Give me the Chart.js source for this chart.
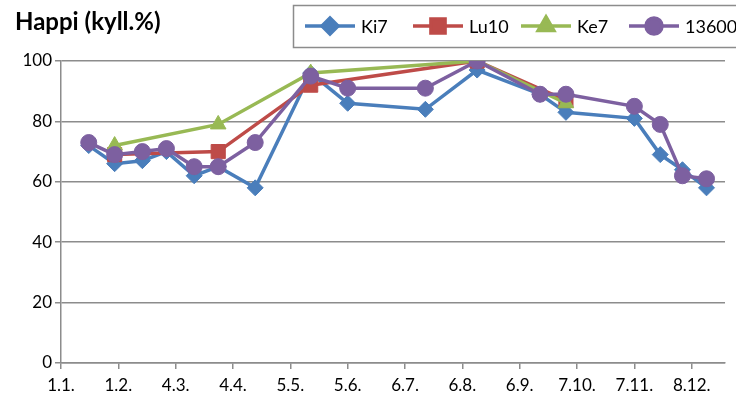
<!DOCTYPE html>
<html>
<head>
<meta charset="utf-8">
<script src="https://cdn.jsdelivr.net/npm/chart.js@4.4.1/dist/chart.umd.min.js"></script>
<style>
  html, body { margin: 0; padding: 0; background: #ffffff; }
  #wrap { width: 736px; height: 401px; }
</style>
</head>
<body>
<div id="wrap"><canvas id="c" width="736" height="401"></canvas></div>
<script>
// Sampling days (day of year, 1.1. = 0)
const sampleDays = [15, 29, 44, 57, 72, 85, 105, 135, 155, 197, 225, 259, 273, 310, 324, 336, 349];

// Oxygen saturation (%) per station; null = not sampled that day
const ki7   = [72, 66, 67, 70, 62, 65, 58, 96, 86, 84, 97, 89, 83, 81, 69, 64, 58];
const lu10  = [null, 69, null, null, null, 70, null, 92, null, null, 100, null, 87, null, null, null, null];
const ke7   = [null, 72, null, null, null, 79, null, 96, null, null, 100, null, 86, null, null, null, null];
const s13600 = [73, 69, 70, 71, 65, 65, 73, 95, 91, 91, 100, 89, 89, 85, 79, 62, 61];

// Date axis ticks every 31 days
const tickDays   = [0, 31, 62, 93, 124, 155, 186, 217, 248, 279, 310, 341];
const tickLabels = ['1.1.', '1.2.', '4.3.', '4.4.', '5.5.', '5.6.', '6.7.', '6.8.', '6.9.', '7.10.', '7.11.', '8.12.'];
const yTicks = [0, 20, 40, 60, 80, 100];

const FONT = 'Lato, "Open Sans", sans-serif';
const GRID = '#8c8c8c';

function points(values) {
  const out = [];
  values.forEach((v, i) => { if (v !== null) out.push({ x: sampleDays[i], y: v }); });
  return out;
}

function series(label, values, color, style, radius, order) {
  return {
    label, data: points(values), order,
    borderColor: color, backgroundColor: color,
    borderWidth: 3.5, pointStyle: style, pointRadius: radius,
    pointHoverRadius: radius, pointBorderWidth: 1,
    pointBorderColor: color, pointBackgroundColor: color,
    tension: 0
  };
}

const datasets = [
  series('Ki7', ki7, '#4a7ebb', 'rectRot', 8, 4),
  series('Lu10', lu10, '#be4b48', 'rect', 10, 3),
  series('Ke7', ke7, '#98b954', 'triangle', 9, 2),
  series('13600', s13600, '#7d60a0', 'circle', 8, 1)
];

// Title and boxed legend (equal-width entries) drawn on top of the chart
const decorations = {
  id: 'decorations',
  afterDraw(chart) {
    const ctx = chart.ctx;
    ctx.save();
    ctx.fillStyle = '#000';
    ctx.font = 'bold 24px ' + FONT;
    ctx.textBaseline = 'middle';
    ctx.textAlign = 'left';
    ctx.fillText('Happi (kyll.%)', 15, 22);

    ctx.strokeStyle = GRID;
    ctx.lineWidth = 1.5;
    ctx.strokeRect(293.5, 5.5, 470, 42);

    ctx.font = '18px ' + FONT;
    const y = 26;
    chart.data.datasets.forEach((ds, i) => {
      const x = 305 + i * 108;
      ctx.strokeStyle = ds.borderColor;
      ctx.lineWidth = 3.5;
      ctx.beginPath();
      ctx.moveTo(x, y);
      ctx.lineTo(x + 50, y);
      ctx.stroke();
      ctx.fillStyle = ds.borderColor;
      Chart.helpers.drawPoint(ctx, { pointStyle: ds.pointStyle, radius: ds.pointRadius, borderWidth: 1 }, x + 25, y);
      ctx.fillStyle = '#000';
      ctx.fillText(ds.label, x + 56, y + 1);
    });
    ctx.restore();
  }
};

new Chart(document.getElementById('c'), {
  type: 'line',
  data: { datasets },
  plugins: [decorations],
  options: {
    responsive: false,
    animation: false,
    layout: { padding: { left: 0, top: 61, right: 0, bottom: 0 } },
    plugins: { legend: { display: false }, tooltip: { enabled: false } },
    scales: {
      x: {
        type: 'linear', min: 0, max: 359,
        afterBuildTicks: s => { s.ticks = tickDays.map(v => ({ value: v })); },
        afterFit: s => { s.height = 38; },
        grid: { drawOnChartArea: false, drawTicks: true, tickLength: 6, color: GRID, lineWidth: 1.5 },
        border: { display: true, color: GRID, width: 1.5 },
        ticks: {
          autoSkip: false, maxRotation: 0, padding: 6, color: '#000',
          font: { family: FONT, size: 17 },
          callback: (v, i) => tickLabels[i]
        }
      },
      y: {
        min: 0, max: 100,
        afterBuildTicks: s => { s.ticks = yTicks.map(v => ({ value: v })); },
        afterFit: s => { s.width = 61; },
        grid: { drawTicks: true, tickLength: 6, color: GRID, lineWidth: 1.5 },
        border: { display: true, color: GRID, width: 1.5 },
        ticks: { padding: 3, color: '#000', font: { family: FONT, size: 17 } }
      }
    }
  }
});
</script>
</body>
</html>
